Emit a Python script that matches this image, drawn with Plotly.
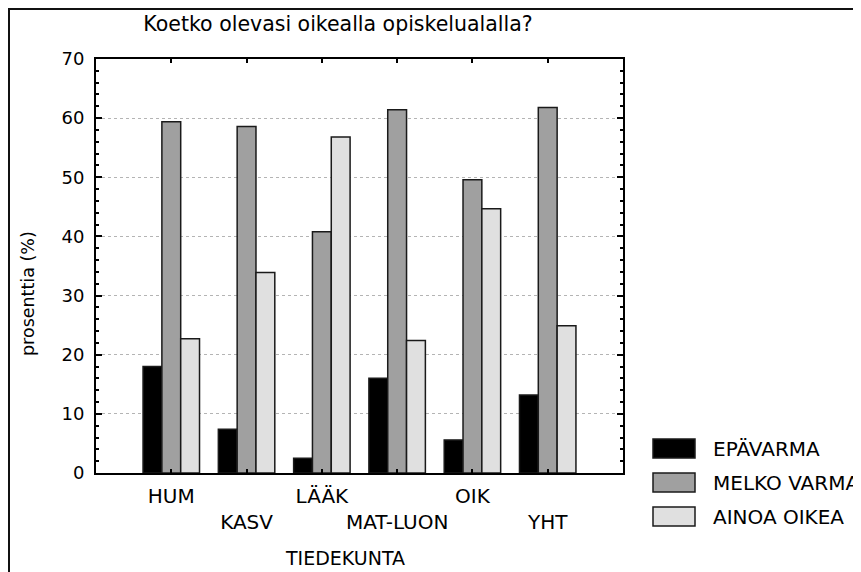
import plotly.graph_objects as go

# data
faculties = ["HUM", "KASV", "LÄÄK", "MAT-LUON", "OIK", "YHT"]
series_names = ["EPÄVARMA", "MELKO VARMA", "AINOA OIKEA"]
epavarma = [18.0, 7.4, 2.5, 16.0, 5.6, 13.2]
melko_varma = [59.4, 58.6, 40.8, 61.4, 49.6, 61.8]
ainoa_oikea = [22.7, 33.9, 56.8, 22.4, 44.7, 24.9]

fills = ["#000000", "#a0a0a0", "#e0e0e0"]
FONT = "DejaVu Sans"

# page body adds an 8px margin, so screen pixels are shifted by OFF
OFF = 8
W, H = 861, 572
L, R, T, B = 96 - OFF, 623 - OFF, 59 - OFF, 473 - OFF


def px(x):
    # screen x -> paper x
    return (x - OFF - L) / (R - L)


def py(y):
    # screen y -> paper y
    return (B - (y - OFF)) / (B - T)


def main():
    xpos = list(range(1, len(faculties) + 1))
    # stagger labels in two rows like the original
    ticktext = [f if i % 2 == 0 else "<br>" + f for i, f in enumerate(faculties)]

    fig = go.Figure()
    for name, vals, col in zip(series_names, [epavarma, melko_varma, ainoa_oikea], fills):
        fig.add_trace(go.Bar(
            x=xpos, y=vals, name=name, showlegend=False,
            marker=dict(color=col, line=dict(color="#1a1a1a", width=1.5)),
        ))

    shapes = []
    annotations = []

    # hand-made legend with wide swatches
    for i, (name, col) in enumerate(zip(series_names, fills)):
        top = 439 + i * 34
        shapes.append(dict(type="rect", xref="paper", yref="paper",
                           x0=px(653), x1=px(695), y0=py(top + 19), y1=py(top),
                           fillcolor=col, line=dict(color="#1a1a1a", width=1.5)))
        annotations.append(dict(text=name, xref="paper", yref="paper",
                                x=px(711), y=py(top + 9.5), xanchor="left", yanchor="middle",
                                showarrow=False, font=dict(size=20)))

    # outer frame (left and top edges visible)
    shapes.append(dict(type="line", xref="paper", yref="paper",
                       x0=px(OFF + 1), x1=px(OFF + 1), y0=py(OFF + 1), y1=py(700),
                       line=dict(color="#111111", width=2)))
    shapes.append(dict(type="line", xref="paper", yref="paper",
                       x0=px(OFF), x1=px(1000), y0=py(OFF + 1), y1=py(OFF + 1),
                       line=dict(color="#111111", width=2)))

    annotations.append(dict(text="TIEDEKUNTA", xref="paper", yref="paper",
                            x=px(345), y=py(558), xanchor="center", yanchor="middle",
                            showarrow=False, font=dict(size=19)))
    annotations.append(dict(text="prosenttia (%)", xref="paper", yref="paper",
                            x=px(28), y=py(294), xanchor="center", yanchor="middle",
                            textangle=-90, showarrow=False, font=dict(size=17.5)))

    fig.update_layout(
        width=W, height=H,
        margin=dict(l=L, r=W - R, t=T, b=H - B, pad=0, autoexpand=False),
        paper_bgcolor="white", plot_bgcolor="white",
        font=dict(family=FONT, size=18, color="black"),
        title=dict(text="Koetko olevasi oikealla opiskelualalla?", xref="paper",
                   x=px(338), xanchor="center", yref="container",
                   y=1 - (24 - OFF) / H, yanchor="middle", font=dict(size=20.5)),
        barmode="group", bargap=0.25, bargroupgap=0,
        shapes=shapes, annotations=annotations,
        showlegend=False,
    )
    fig.update_xaxes(
        range=[0, 7], tickvals=xpos, ticktext=ticktext, tickfont=dict(size=20),
        tickangle=0, automargin=False,
        ticks="inside", ticklen=4, tickcolor="black", tickwidth=1.5,
        showline=True, linecolor="black", linewidth=2, mirror="allticks",
        showgrid=False, zeroline=False, ticklabelstandoff=4,
    )
    fig.update_yaxes(
        range=[0, 70], dtick=10, tickfont=dict(size=18), automargin=False,
        ticks="inside", ticklen=6, tickcolor="black", tickwidth=1.5,
        minor=dict(ticks="inside", dtick=2, ticklen=3, tickcolor="black", showgrid=False),
        showline=True, linecolor="black", linewidth=2, mirror="allticks",
        showgrid=True, gridcolor="#b4b4b4", griddash="dot", gridwidth=1,
        zeroline=False, ticklabelstandoff=6,
    )

    fig.write_html("out.html")


if __name__ == "__main__":
    main()
